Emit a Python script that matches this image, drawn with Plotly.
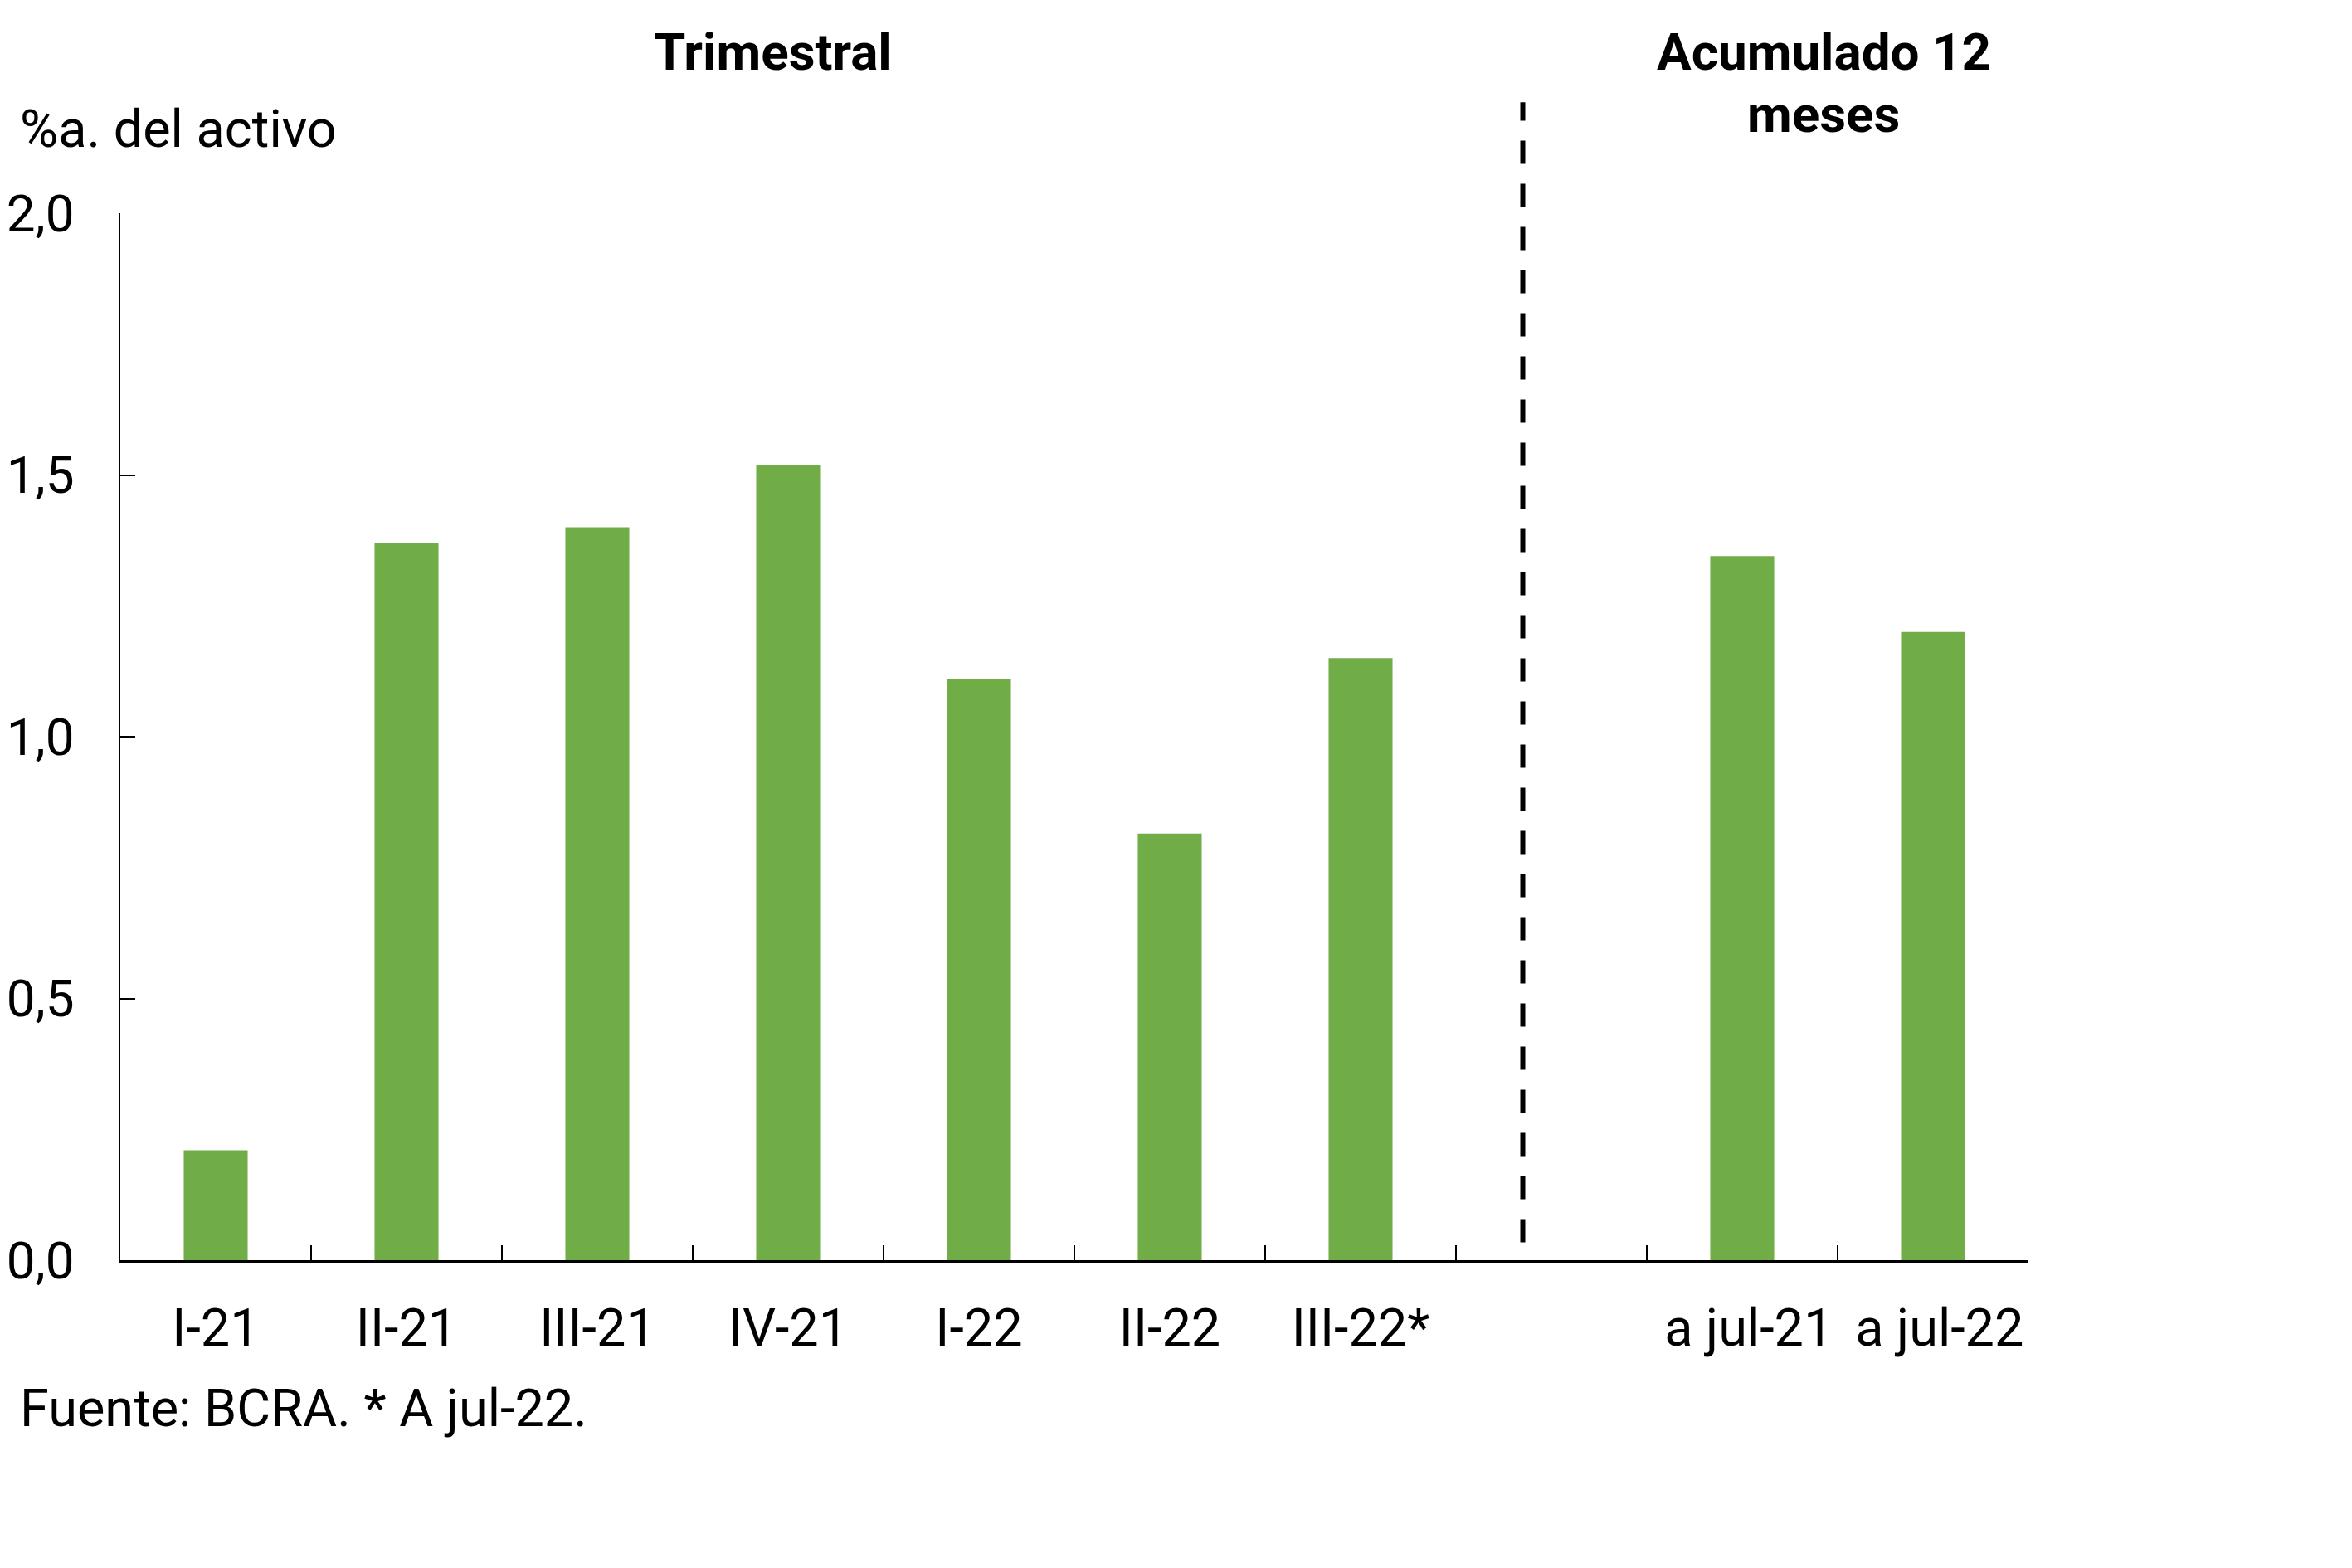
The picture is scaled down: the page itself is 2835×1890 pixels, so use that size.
import plotly.graph_objects as go

categories = ["I-21", "II-21", "III-21", "IV-21", "I-22", "II-22", "III-22*", " ",
              "\u00a0a jul-21", "\u00a0a jul-22"]
values = [0.21, 1.37, 1.40, 1.52, 1.11, 0.815, 1.15, None, 1.345, 1.20]
y_ticks = [0.0, 0.5, 1.0, 1.5, 2.0]
y_tick_labels = ["0,0", "0,5", "1,0", "1,5", "2,0"]
divider_pos = 6.85

W, H = 2835, 1890
OFF = 8  # page body margin
# target plot area in page pixels
PL, PR, PT, PB = 145, 2445, 257, 1519
L, T = PL - OFF, PT - OFF
R, B = W - (PR - OFF), H - (PB - OFF)
FONT = "Roboto"
FS = 63
GREEN = "#70AD47"

fig = go.Figure()
fig.add_trace(go.Bar(
    x=categories, y=values, marker=dict(color=GREEN, line=dict(width=0)),
    width=0.335, showlegend=False, hoverinfo="skip",
))

fig.update_layout(
    width=W, height=H,
    margin=dict(l=L, r=R, t=T, b=B, autoexpand=False),
    paper_bgcolor="white", plot_bgcolor="white",
    font=dict(family=FONT, size=FS, color="black"),
    showlegend=False,
)
fig.update_xaxes(
    type="category", categoryorder="array", categoryarray=categories,
    range=[-0.5, len(categories) - 0.5],
    showline=True, linecolor="black", linewidth=2.5,
    showgrid=False, zeroline=False,
    ticks="inside", tickson="boundaries", ticklen=18, tickwidth=1.5, tickcolor="black",
    tickfont=dict(family=FONT, size=FS, color="black"),
    ticklabelstandoff=25,
)
fig.update_yaxes(
    range=[0, 2.0], tickvals=y_ticks, ticktext=y_tick_labels,
    showline=True, linecolor="black", linewidth=2,
    showgrid=False, zeroline=False,
    ticks="inside", ticklen=18, tickwidth=1.5, tickcolor="black",
    tickfont=dict(family=FONT, size=62, color="black"),
    ticklabelstandoff=41,
)

fig.add_shape(
    type="line", xref="x", yref="paper",
    x0=divider_pos, x1=divider_pos, y0=0.017, y1=1.106,
    line=dict(color="black", width=6, dash="28px,24px"),
)

pw = PR - PL
ph = PB - PT

def px_x(x):
    return (x - PL) / pw

def px_y(y):
    return (PB - y) / ph

fig.add_annotation(text="%a. del activo", xref="paper", yref="paper",
                   x=px_x(22), y=px_y(155), xanchor="left", yanchor="middle",
                   showarrow=False, font=dict(family=FONT, size=FS, color="black"))
fig.add_annotation(text="<b>Trimestral</b>", xref="paper", yref="paper",
                   x=px_x(931), y=px_y(63), xanchor="center", yanchor="middle",
                   showarrow=False, font=dict(family=FONT, size=62, color="black"))
fig.add_annotation(text="<b>Acumulado 12</b>", xref="paper", yref="paper",
                   x=px_x(2198), y=px_y(63), xanchor="center", yanchor="middle",
                   showarrow=False, font=dict(family=FONT, size=62, color="black"))
fig.add_annotation(text="<b>meses</b>", xref="paper", yref="paper",
                   x=px_x(2198), y=px_y(137), xanchor="center", yanchor="middle",
                   showarrow=False, font=dict(family=FONT, size=62, color="black"))
fig.add_annotation(text="Fuente: BCRA. * A jul-22.", xref="paper", yref="paper",
                   x=px_x(22), y=px_y(1697), xanchor="left", yanchor="middle",
                   showarrow=False, font=dict(family=FONT, size=FS, color="black"))

fig.write_html("out.html")
